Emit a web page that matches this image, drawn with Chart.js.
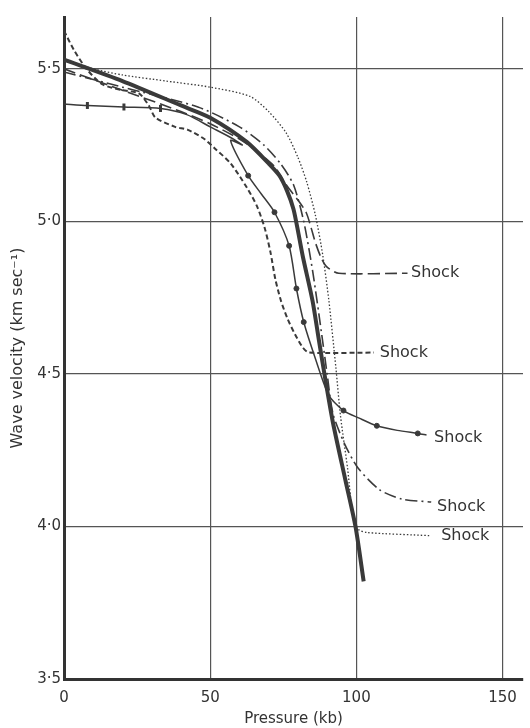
<!DOCTYPE html>
<html>
<head>
<meta charset="utf-8">
<script src="https://cdn.jsdelivr.net/npm/chart.js@4.4.0/dist/chart.umd.min.js"></script>
<style>
  html, body { margin: 0; padding: 0; background: #fff; overflow: hidden; }
  #wrap { width: 530px; height: 728px; position: relative; }
  canvas { display: block; }
</style>
</head>
<body>
<div id="wrap"><canvas id="chart"></canvas></div>
<script>
// axis ticks
const xTicks = [0, 50, 100, 150];
const xTickLabels = ["0", "50", "100", "150"];
const yTicks = [3.5, 4.0, 4.5, 5.0, 5.5];
const yTickLabels = ["3·5", "4·0", "4·5", "5·0", "5·5"];

// heavy solid curve
const thickX = [0, 20, 40, 50, 62.6, 70, 73.7, 76.3, 78.5, 80.2, 81.8, 85, 87.2, 89.6, 92, 96.3, 99.7, 102.5];
const thickY = [5.53, 5.46, 5.38, 5.34, 5.26, 5.19, 5.15, 5.10, 5.04, 4.96, 4.88, 4.74, 4.61, 4.47, 4.34, 4.15, 4.0, 3.82];

// long dash -> shock 4.83
const longDashX = [0, 20, 40, 50, 60, 66, 72, 76, 80, 82.8, 84.5, 86, 88, 90, 94, 117.5];
const longDashY = [5.50, 5.43, 5.36, 5.32, 5.27, 5.23, 5.18, 5.12, 5.07, 5.03, 4.98, 4.93, 4.88, 4.85, 4.83, 4.83];

// short dash -> shock 4.57
const shortDashX = [0, 3.5, 7.7, 13, 20, 25.6, 29, 31.3, 38, 42.4, 48, 51.5, 57, 62.6, 66, 68.6, 70.6, 72.3, 74.2, 76.5, 79, 81.8, 83.8, 106];
const shortDashY = [5.625, 5.56, 5.50, 5.45, 5.43, 5.42, 5.38, 5.34, 5.31, 5.30, 5.27, 5.24, 5.19, 5.11, 5.05, 4.98, 4.90, 4.81, 4.74, 4.68, 4.63, 4.585, 4.57, 4.57];

// thin solid with marks -> shock 4.30
const thinX = [0, 8, 20.5, 33, 42, 50, 58, 61, 57, 63, 67.5, 72, 77, 79.5, 82, 86, 90.6, 95.6, 101, 107, 114, 121, 124];
const thinY = [5.385, 5.38, 5.375, 5.37, 5.35, 5.31, 5.27, 5.25, 5.265, 5.15, 5.09, 5.03, 4.92, 4.78, 4.67, 4.55, 4.43, 4.38, 4.355, 4.33, 4.315, 4.305, 4.30];
const dotMarkX = [63, 72, 77, 79.5, 82, 95.6, 107, 121];
const dotMarkY = [5.15, 5.03, 4.92, 4.78, 4.67, 4.38, 4.33, 4.305];
const barMarkX = [8, 20.5, 33];
const barMarkY = [5.38, 5.375, 5.37];

// dash-dot -> shock 4.08
const dashDotX = [0, 20, 45.8, 60, 68.4, 74, 78.5, 82, 85, 88, 90, 92, 96, 100.7, 108, 115.5, 125.6];
const dashDotY = [5.49, 5.44, 5.375, 5.31, 5.25, 5.19, 5.12, 5.00, 4.84, 4.64, 4.50, 4.37, 4.27, 4.19, 4.12, 4.09, 4.08];

// dotted -> shock 3.97
const dottedX = [0, 10, 20, 35, 50, 63.6, 70, 76, 80, 83, 86, 88.5, 90.6, 93, 94.6, 97, 99, 100.7, 103.7, 125];
const dottedY = [5.53, 5.50, 5.48, 5.46, 5.44, 5.41, 5.36, 5.29, 5.21, 5.13, 5.02, 4.89, 4.74, 4.52, 4.36, 4.19, 4.02, 3.99, 3.98, 3.97];

// "Shock" labels
const shockX = [118.7, 108, 126.6, 127.6, 129];
const shockY = [4.83, 4.57, 4.29, 4.065, 3.97];

const pts = (xs, ys) => xs.map((x, i) => ({ x: x, y: ys[i] }));
const ink = "#3a3a3a";

function curve(xs, ys, width, dash) {
  return {
    data: pts(xs, ys),
    showLine: true,
    borderColor: ink,
    borderWidth: width,
    borderDash: dash,
    pointRadius: 0,
    tension: 0.25,
    fill: false,
  };
}

const shockLabels = {
  id: "shockLabels",
  afterDatasetsDraw(chart) {
    const ctx = chart.ctx;
    const xs = chart.scales.x;
    const ys = chart.scales.y;
    ctx.save();
    ctx.fillStyle = "#333";
    ctx.font = "16px 'DejaVu Sans'";
    ctx.textAlign = "left";
    ctx.textBaseline = "middle";
    shockX.forEach((x, i) => {
      ctx.fillText("Shock", xs.getPixelForValue(x), ys.getPixelForValue(shockY[i]));
    });
    ctx.restore();
  },
};

Chart.defaults.font.family = "'DejaVu Sans'";
Chart.defaults.color = "#333";

new Chart(document.getElementById("chart"), {
  type: "scatter",
  data: {
    datasets: [
      curve(dottedX, dottedY, 1.3, [1.5, 2]),
      curve(shortDashX, shortDashY, 2, [5, 3]),
      curve(longDashX, longDashY, 1.6, [12, 5]),
      curve(dashDotX, dashDotY, 1.6, [12, 4, 2, 4]),
      curve(thinX, thinY, 1.5, []),
      curve(thickX, thickY, 4, []),
      {
        data: pts(dotMarkX, dotMarkY),
        showLine: false,
        pointRadius: 2.5,
        pointBackgroundColor: ink,
        pointBorderColor: ink,
      },
      {
        data: pts(barMarkX, barMarkY),
        showLine: false,
        pointStyle: "line",
        rotation: 90,
        pointRadius: 3.5,
        pointBorderWidth: 3,
        pointBorderColor: ink,
      },
    ],
  },
  options: {
    responsive: true,
    maintainAspectRatio: false,
    animation: false,
    layout: { padding: { top: 17, right: 0, left: 0, bottom: 0 } },
    plugins: { legend: { display: false }, tooltip: { enabled: false } },
    scales: {
      x: {
        type: "linear",
        min: 0,
        max: 157,
        afterBuildTicks: (s) => { s.ticks = xTicks.map((v) => ({ value: v })); },
        afterFit: (s) => { s.height = 49; },
        ticks: {
          padding: 0,
          font: { size: 15 },
          callback: (v) => xTickLabels[xTicks.indexOf(v)],
        },
        grid: { color: "#555", lineWidth: 1.2, drawTicks: true, tickLength: 10, tickColor: "rgba(0,0,0,0)" },
        border: { color: "#333", width: 3 },
        title: { display: true, text: "Pressure (kb)", font: { size: 15 }, padding: { top: 0, bottom: 0 } },
      },
      y: {
        type: "linear",
        min: 3.5,
        max: 5.67,
        afterBuildTicks: (s) => { s.ticks = yTicks.map((v) => ({ value: v })); },
        afterFit: (s) => { s.width = 64; },
        ticks: {
          padding: 3,
          font: { size: 15 },
          callback: (v) => yTickLabels[yTicks.indexOf(v)],
        },
        grid: { color: "#555", lineWidth: 1.2, drawTicks: false },
        border: { color: "#333", width: 3 },
        title: { display: true, text: "Wave velocity (km sec⁻¹)", font: { size: 16 }, padding: { top: 8, bottom: 0 } },
      },
    },
  },
  plugins: [shockLabels],
});
</script>
</body>
</html>
